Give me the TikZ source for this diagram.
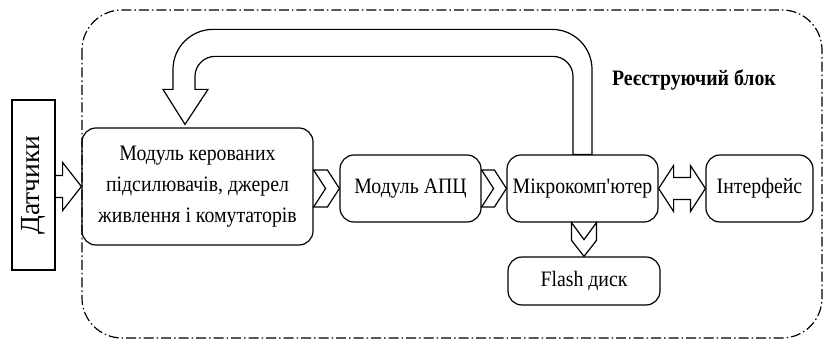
\documentclass[tikz,border=0pt]{standalone}
\usepackage{fontspec}
\setmainfont{Liberation Serif}[FakeStretch=0.9]
\newfontfamily\sensfont{Liberation Serif}
\usetikzlibrary{calc}

\begin{document}
\begin{tikzpicture}[x=0.5pt,y=-0.5pt,
    blk/.style={draw, line width=0.6pt, rounded corners=7pt, align=center,
        inner sep=0pt, font=\fontsize{11}{15.5}\selectfont},
    hollow/.style={draw, line width=0.6pt, line join=miter}]
    \useasboundingbox (0,0) rectangle (823,340);

    % registering unit frame
    \draw[line width=0.6pt, rounded corners=20pt,
        dash pattern=on 5pt off 1.5pt on 0.75pt off 1.5pt] (82,10) rectangle (822,338);
    \node[font=\bfseries\fontsize{11}{13}\selectfont] (title) at (694,80) {Реєструючий блок};

    \node[draw, line width=0.6pt, rotate=90, minimum width=85pt, minimum height=21.5pt,
        inner sep=0pt, font=\sensfont\fontsize{13.8}{16}\selectfont] (sens) at (33.5,185) {Датчики};
    \node[blk, minimum width=115.5pt, minimum height=58.5pt] (mod) at (197.5,186.5)
        {Модуль керованих\\підсилювачів, джерел\\живлення і комутаторів};
    \node[blk, minimum width=70.5pt, minimum height=33.5pt] (adc) at (410.5,188.5) {Модуль АПЦ};
    \node[blk, minimum width=75.5pt, minimum height=33.5pt] (mcu) at (582.5,188.5)
        {Мікрокомп\textquotesingle ютер};
    \node[blk, minimum width=53.5pt, minimum height=33.5pt] (intf) at (759.5,188.5) {Інтерфейс};
    \node[blk, minimum width=76pt, minimum height=24pt] (flash) at (584,281) {Flash диск};

    % sensors -> module
    \coordinate (s) at (sens.south |- mod.west);
    \draw[hollow] ($(s)+(0,-11)$) -- ($(s)+(7,-11)$) -- ($(s)+(7,-24)$) -- (mod.west) --
        ($(s)+(7,24)$) -- ($(s)+(7,11)$) -- ($(s)+(0,11)$);

    % chevrons along the row
    \coordinate (a) at (mod.east |- adc.west);
    \draw[hollow] ($(a)+(0,-18.5)$) -- ($(adc.west)+(-12,-18.5)$) -- (adc.west) --
        ($(adc.west)+(-12,18.5)$) -- ($(a)+(0,18.5)$) -- ($(a)+(12,0)$) -- cycle;
    \draw[hollow] ($(adc.east)+(0,-18.5)$) -- ($(mcu.west)+(-12,-18.5)$) -- (mcu.west) --
        ($(mcu.west)+(-12,18.5)$) -- ($(adc.east)+(0,18.5)$) -- ($(adc.east)+(12,0)$) -- cycle;

    % mcu -> flash
    \coordinate (f) at (mcu.south -| flash.north);
    \draw[hollow] ($(f)+(-12.5,0)$) -- ($(flash.north)+(-12.5,-16)$) -- (flash.north) --
        ($(flash.north)+(12.5,-16)$) -- ($(f)+(12.5,0)$) -- ($(f)+(0,17)$) -- cycle;

    % mcu <-> interface
    \draw[hollow] (mcu.east) -- ($(mcu.east)+(15,-23)$) -- ($(mcu.east)+(15,-11)$) --
        ($(intf.west)+(-15,-11)$) -- ($(intf.west)+(-15,-23)$) -- (intf.west) --
        ($(intf.west)+(-15,23)$) -- ($(intf.west)+(-15,11)$) -- ($(mcu.east)+(15,11)$) --
        ($(mcu.east)+(15,23)$) -- cycle;

    % feedback from mcu back to the module
    \coordinate (fbtip) at ($(mod.north)+(-12.5,-3)$);
    \draw[hollow] ($(mcu.north)+(9.5,0)$) [rounded corners=20pt] -- ($(mcu.north)+(9.5,-125)$)
        -- ($(fbtip)+(-12,-95)$) [sharp corners] -- ($(fbtip)+(-12,-35)$) -- ($(fbtip)+(-22,-35)$)
        -- (fbtip) -- ($(fbtip)+(23,-35)$) -- ($(fbtip)+(10,-35)$) [rounded corners=10pt]
        -- ($(fbtip)+(10,-68)$) -- ($(mcu.north)+(-9.5,-98)$) [sharp corners]
        -- ($(mcu.north)+(-9.5,0)$) -- cycle;
\end{tikzpicture}
\end{document}
